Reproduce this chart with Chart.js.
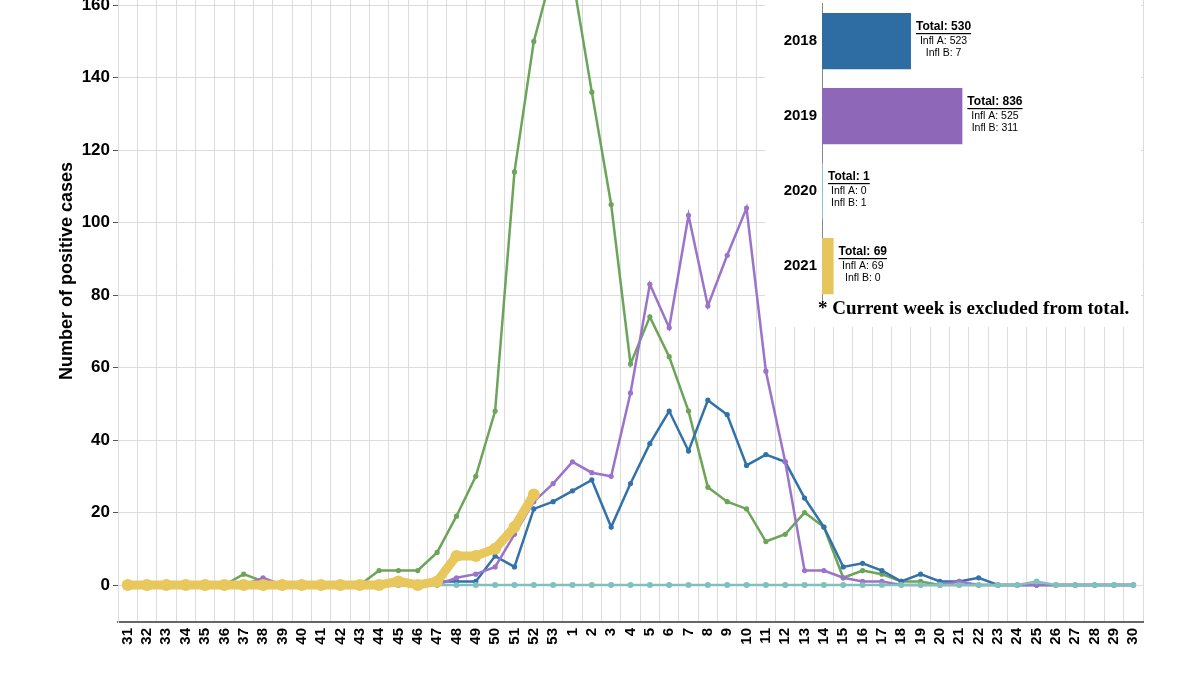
<!DOCTYPE html>
<html>
<head>
<meta charset="utf-8">
<script src="https://cdn.jsdelivr.net/npm/chart.js@4.4.1/dist/chart.umd.min.js"></script>
<style>
html, body { margin: 0; padding: 0; background: #fff; }
body { width: 1200px; height: 674px; position: relative; overflow: hidden; font-family: 'Liberation Sans', Arial, sans-serif; }
#mainWrap { position: absolute; left: 0; top: -100px; width: 1200px; height: 774px; }
#inset { position: absolute; left: 765px; top: 0; width: 376px; height: 327px; background: #fff; }
#insetWrap { position: absolute; left: 0; top: -20px; width: 376px; height: 344px; }
#note { position: absolute; left: 53px; top: 297px; white-space: nowrap; font: bold 19px 'Liberation Serif', 'Times New Roman', serif; color: #000; }
</style>
</head>
<body>
<div id="mainWrap"><canvas id="mainCanvas"></canvas></div>
<div id="inset">
	<div id="insetWrap"><canvas id="insetCanvas"></canvas></div>
	<div id="note">* Current week is excluded from total.</div>
</div>
<script>
// week numbers on the x axis (season runs week 31 -> week 30)
const weeks = ['31', '32', '33', '34', '35', '36', '37', '38', '39', '40', '41', '42', '43', '44', '45', '46', '47', '48', '49', '50', '51', '52', '53',
	'1', '2', '3', '4', '5', '6', '7', '8', '9', '10', '11', '12', '13', '14', '15', '16', '17', '18', '19', '20', '21', '22', '23', '24', '25', '26', '27', '28', '29', '30'];

const yTicks = [0, 20, 40, 60, 80, 100, 120, 140, 160];

// positive cases per week, one array per season
const cases2017 = [0, 0, 0, 0, 0, 0, 3, 1, 0, 0, 0, 0, 0, 4, 4, 4, 9, 19, 30, 48, 114, 150, 170,
	168, 136, 105, 61, 74, 63, 48, 27, 23, 21, 12, 14, 20, 16, 2, 4, 3, 1, 1, 0, 0, 0, 0, 0, 0, 0, 0, 0, 0, 0];
const cases2018 = [0, 0, 0, 0, 0, 0, 0, 0, 0, 0, 0, 0, 0, 0, 0, 0, 1, 1, 1, 8, 5, 21, 23,
	26, 29, 16, 28, 39, 48, 37, 51, 47, 33, 36, 34, 24, 16, 5, 6, 4, 1, 3, 1, 1, 2, 0, 0, 0, 0, 0, 0, 0, 0];
const cases2019 = [0, 0, 0, 0, 0, 0, 0, 2, 0, 0, 0, 0, 0, 0, 0, 0, 0, 2, 3, 5, 14, 23, 28,
	34, 31, 30, 53, 83, 71, 102, 77, 91, 104, 59, 34, 4, 4, 2, 1, 1, 0, 0, 0, 1, 0, 0, 0, 0, 0, 0, 0, 0, 0];
const cases2020 = [0, 0, 0, 0, 0, 0, 0, 0, 0, 0, 0, 0, 0, 0, 0, 0, 0, 0, 0, 0, 0, 0, 0,
	0, 0, 0, 0, 0, 0, 0, 0, 0, 0, 0, 0, 0, 0, 0, 0, 0, 0, 0, 0, 0, 0, 0, 0, 1, 0, 0, 0, 0, 0];
const cases2021 = [0, 0, 0, 0, 0, 0, 0, 0, 0, 0, 0, 0, 0, 0, 1, 0, 1, 8, 8, 10, 16, 25];

// season totals for the inset
const insetYears = ['2018', '2019', '2020', '2021'];
const insetTotals = [530, 836, 1, 69];
const insetInflA = [523, 525, 0, 69];
const insetInflB = [7, 311, 1, 0];

const FONT = "'Liberation Sans', Arial, sans-serif";

function lineSet(label, data, color, width, radius, order) {
	return {
		label,
		data,
		borderColor: color,
		backgroundColor: color,
		borderWidth: width,
		pointRadius: radius,
		pointBorderWidth: 0,
		pointBackgroundColor: color,
		tension: 0,
		order
	};
}

new Chart(document.getElementById('mainCanvas'), {
	type: 'line',
	data: {
		labels: weeks,
		datasets: [
			lineSet('2017', cases2017, '#6ca45a', 2.5, 2.6, 5),
			lineSet('2018', cases2018, '#3272a8', 2.5, 2.6, 4),
			lineSet('2019', cases2019, '#9b73c8', 2.5, 2.6, 3),
			lineSet('2020', cases2020, '#82c0bf', 2.5, 3, 2),
			lineSet('2021', cases2021, '#e8c75c', 9, 6, 1)
		]
	},
	options: {
		responsive: true,
		maintainAspectRatio: false,
		animation: false,
		layout: { padding: { top: 20, right: 57, bottom: 0, left: 56 } },
		plugins: { legend: { display: false }, tooltip: { enabled: false } },
		scales: {
			x: {
				offset: true,
				grid: { offset: true, color: '#dcdcdc', drawTicks: false },
				border: { display: true, color: '#666', width: 2 },
				ticks: {
					autoSkip: false, maxRotation: 90, minRotation: 90, padding: 6, color: '#000',
					font: { family: FONT, size: 15, weight: 'bold' }
				},
				afterFit: s => { s.height = 52; }
			},
			y: {
				min: -10.2,
				max: 183.5,
				afterBuildTicks: s => { s.ticks = yTicks.map(v => ({ value: v })); },
				grid: { color: '#dcdcdc', tickColor: '#555', tickLength: 5 },
				border: { display: true, color: '#dcdcdc' },
				ticks: { padding: 3, color: '#000', font: { family: FONT, size: 17, weight: 'bold' } },
				title: {
					display: true, text: 'Number of positive cases', color: '#000', padding: 0,
					font: { family: FONT, size: 18, weight: 'bold' }
				},
				afterFit: s => { s.width = 62; }
			}
		}
	}
});

// "Total / Infl A / Infl B" text next to each inset bar
const totalsLabel = {
	id: 'totalsLabel',
	afterDatasetsDraw(chart) {
		const ctx = chart.ctx;
		chart.getDatasetMeta(0).data.forEach((bar, i) => {
			const total = 'Total: ' + insetTotals[i];
			ctx.save();
			ctx.fillStyle = '#000';
			ctx.textAlign = 'center';
			ctx.textBaseline = 'middle';
			ctx.font = 'bold 12px ' + FONT;
			const w = ctx.measureText(total).width;
			const cx = bar.x + 5 + w / 2;
			ctx.fillText(total, cx, bar.y - 14);
			ctx.fillRect(cx - w / 2, bar.y - 8, w, 1.2);
			ctx.font = '10.5px ' + FONT;
			ctx.fillText('Infl A: ' + insetInflA[i], cx, bar.y);
			ctx.fillText('Infl B: ' + insetInflB[i], cx, bar.y + 12);
			ctx.restore();
		});
	}
};

new Chart(document.getElementById('insetCanvas'), {
	type: 'bar',
	data: {
		labels: insetYears,
		datasets: [{
			data: insetTotals,
			backgroundColor: ['#2e6da4', '#8e67b8', '#8cc5c5', '#e6c65c'],
			categoryPercentage: 1,
			barPercentage: 0.75,
			minBarLength: 1
		}]
	},
	options: {
		indexAxis: 'y',
		responsive: true,
		maintainAspectRatio: false,
		animation: false,
		layout: { padding: { top: 23.5, bottom: 20.5, left: 0, right: 0 } },
		plugins: { legend: { display: false }, tooltip: { enabled: false } },
		scales: {
			x: { display: false, min: 0, max: 1900 },
			y: {
				grid: { display: false, drawTicks: false },
				border: { display: true, dash: [2, 2], color: '#888' },
				ticks: { padding: 5, color: '#000', font: { family: FONT, size: 15, weight: 'bold' } },
				afterFit: s => { s.width = 57; }
			}
		}
	},
	plugins: [totalsLabel]
});
</script>
</body>
</html>
